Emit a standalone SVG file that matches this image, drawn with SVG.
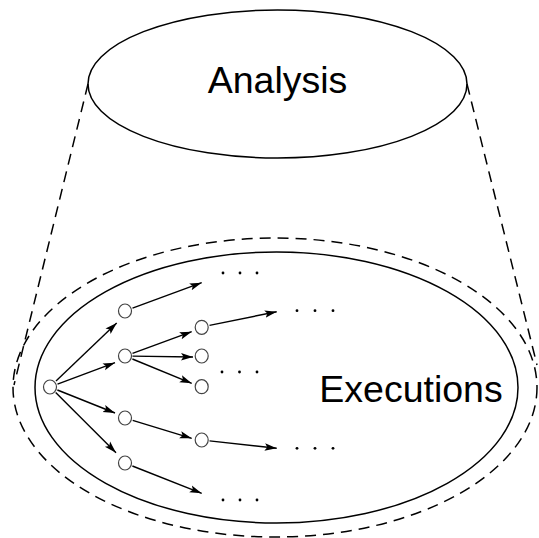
<svg xmlns="http://www.w3.org/2000/svg" width="539" height="538" viewBox="0 0 539 538">
<style>
.big{fill:none;stroke:#000;stroke-width:1.5}
.dash{fill:none;stroke:#000;stroke-width:1.5;stroke-dasharray:11 7}
.node{fill:#fff;stroke:#444;stroke-width:1.2}
.edge{fill:none;stroke:#000;stroke-width:1.4;marker-end:url(#ah)}
.dot{fill:#000}
.lbl{font-family:"Liberation Sans",Arial,sans-serif;font-size:37.5px;fill:#000;text-anchor:middle}
</style>
<defs>
<marker id="ah" markerUnits="userSpaceOnUse" markerWidth="13" markerHeight="9" refX="12" refY="4.5" orient="auto">
<path d="M0,0.8 L12,4.5 L0,8.2 L2.5,4.5 z" fill="#000"/>
</marker>
</defs>
<rect width="539" height="538" fill="#fff"/>
<g id="cone">
<line class="dash" x1="88" y1="84" x2="14" y2="385"/>
<line class="dash" x1="467" y1="84" x2="537" y2="365"/>
</g>
<g id="analysis">
<ellipse class="big" cx="277.5" cy="84" rx="189.5" ry="74"/>
<text class="lbl" x="277.5" y="93">Analysis</text>
</g>
<g id="executions-outer">
<ellipse class="dash" cx="275" cy="387.5" rx="262" ry="149.5"/>
</g>
<g id="executions">
<ellipse class="big" cx="276.5" cy="387.5" rx="241.5" ry="135.5"/>
<text class="lbl" x="411" y="402">Executions</text>
</g>
<g id="connectors">
<path class="edge" d="M56,381 L116.7,323"/>
<path class="edge" d="M57.5,384.2 L115,362.7"/>
<path class="edge" d="M57.4,390 L115,413"/>
<path class="edge" d="M55.7,392.6 L116,452.7"/>
<path class="edge" d="M132.5,308.2 L201.7,282.7"/>
<path class="edge" d="M132.5,353.3 L191.7,331.7"/>
<path class="edge" d="M132.5,356.1 L193,357"/>
<path class="edge" d="M132.4,359 L191.7,383.3"/>
<path class="edge" d="M132.7,420.3 L191.7,438.3"/>
<path class="edge" d="M132.4,466 L201.7,493.3"/>
<path class="edge" d="M209.5,325.4 L276.7,311.7"/>
<path class="edge" d="M209.5,440.9 L276.7,448.3"/>
</g>
<g id="n0"><ellipse class="node" cx="50" cy="387" rx="6.5" ry="7"/></g>
<g id="n1"><ellipse class="node" cx="125" cy="311" rx="6.5" ry="7"/></g>
<g id="n2"><ellipse class="node" cx="125" cy="356" rx="6.5" ry="7"/></g>
<g id="n3"><ellipse class="node" cx="125" cy="418" rx="6.5" ry="7"/></g>
<g id="n4"><ellipse class="node" cx="125" cy="463" rx="6.5" ry="7"/></g>
<g id="n5"><ellipse class="node" cx="201.7" cy="327.3" rx="6.5" ry="7"/></g>
<g id="n6"><ellipse class="node" cx="201.7" cy="356" rx="6.5" ry="7"/></g>
<g id="n7"><ellipse class="node" cx="201.7" cy="386.7" rx="6.5" ry="7"/></g>
<g id="n8"><ellipse class="node" cx="201.7" cy="440" rx="6.5" ry="7"/></g>
<g id="ellipses">
<circle class="dot" cx="223" cy="273" r="1.4"/><circle class="dot" cx="240" cy="273" r="1.4"/><circle class="dot" cx="257" cy="273" r="1.4"/>
<circle class="dot" cx="297" cy="310.7" r="1.4"/><circle class="dot" cx="315" cy="310.7" r="1.4"/><circle class="dot" cx="333" cy="310.7" r="1.4"/>
<circle class="dot" cx="222" cy="372" r="1.4"/><circle class="dot" cx="239.5" cy="372" r="1.4"/><circle class="dot" cx="257" cy="372" r="1.4"/>
<circle class="dot" cx="297" cy="448.3" r="1.4"/><circle class="dot" cx="315" cy="448.3" r="1.4"/><circle class="dot" cx="333" cy="448.3" r="1.4"/>
<circle class="dot" cx="223" cy="500" r="1.4"/><circle class="dot" cx="240" cy="500" r="1.4"/><circle class="dot" cx="257" cy="500" r="1.4"/>
</g>
</svg>
